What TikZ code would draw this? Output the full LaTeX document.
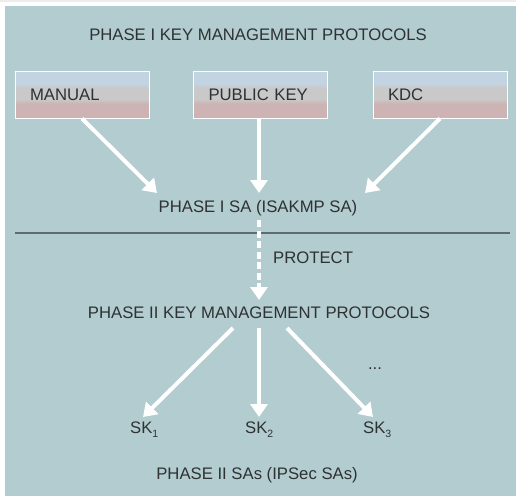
\documentclass[tikz,border=0pt]{standalone}
\usepackage{fontspec}
\setmainfont{Liberation Sans}
\usepackage{tikz}
\usetikzlibrary{arrows.meta}

\definecolor{panel}{HTML}{B2CCD0}
\definecolor{ink}{HTML}{2E3233}
\definecolor{rule}{HTML}{5C6C6F}
\definecolor{boxtop}{HTML}{C2D4E2}
\definecolor{boxmid}{HTML}{C9C9C9}
\definecolor{boxbot}{HTML}{CDB3B3}

\pgfdeclareverticalshading{keyshade}{100bp}{color(0bp)=(boxbot); color(40bp)=(boxbot);
    color(45bp)=(boxmid); color(57bp)=(boxmid); color(62bp)=(boxtop); color(100bp)=(boxtop)}

\newcommand{\sklow}[1]{\raisebox{-4pt}{\fontsize{10.5}{12}\selectfont #1}}

\tikzset{
    lbl/.style={text=ink, font=\fontsize{16.7}{19}\selectfont, inner sep=0pt},
    keybox/.style={lbl, draw=white, line width=1pt, minimum height=47pt,
        text width=104pt, align=left, inner xsep=15pt, shading=keyshade},
    warrow/.style={draw=white, line width=4pt,
        -{Triangle[length=13pt,width=17pt]}},
}

\begin{document}
\begin{tikzpicture}[x=1pt, y=-1pt]
    \useasboundingbox (0,0) rectangle (516,496);
    \fill [gray!15] (0,0) rectangle (516,1.5);
    \fill [panel] (5,6) rectangle (516,496);

    % phase one
    \node [lbl] (title) at (258,35) {PHASE I KEY MANAGEMENT PROTOCOLS};
    \node [keybox] (manual) at (82,94.5) {MANUAL};
    \node [keybox] (pubkey) at (260.5,94.5) {PUBLIC KEY};
    \node [keybox] (kdc) at (440,94.5) {KDC};
    \node [lbl] (sa) at (258,208) {PHASE I SA (ISAKMP SA)};
    \coordinate (t1) at (157,193);
    \coordinate (t2) at (259,193);
    \coordinate (t3) at (365,193);
    \draw [warrow] (manual.south) -- (t1);
    \draw [warrow] (pubkey.south -| t2) -- (t2);
    \draw [warrow] (kdc.south) -- (t3);

    \draw [rule, line width=2pt] (15,233) -- (510,233);

    % phase two
    \coordinate (p0) at (259,220);
    \node [lbl, anchor=west] (protect) at (273,258) {PROTECT};
    \node [lbl] (kmp2) at (259,313) {PHASE II KEY MANAGEMENT PROTOCOLS};
    \coordinate (p1) at (259,300);
    \draw [warrow, dash pattern=on 7pt off 3.5pt] (p0) -- (p1);

    \node [lbl, anchor=base west] (sk1) at (130,433) {SK\sklow{1}};
    \node [lbl, anchor=base west] (sk2) at (245,433) {SK\sklow{2}};
    \node [lbl, anchor=base west] (sk3) at (363,433) {SK\sklow{3}};
    \node [lbl] (dots) at (375,369) {...};
    \node [lbl] (sas) at (257,475) {PHASE II SAs (IPSec SAs)};
    \coordinate (s0) at (233,328);
    \coordinate (s1) at (143,417);
    \coordinate (m0) at (259,328);
    \coordinate (m1) at (259,417);
    \coordinate (r0) at (287,328);
    \coordinate (r1) at (373,417);
    \draw [warrow] (s0) -- (s1);
    \draw [warrow] (m0) -- (m1);
    \draw [warrow] (r0) -- (r1);
\end{tikzpicture}
\end{document}
